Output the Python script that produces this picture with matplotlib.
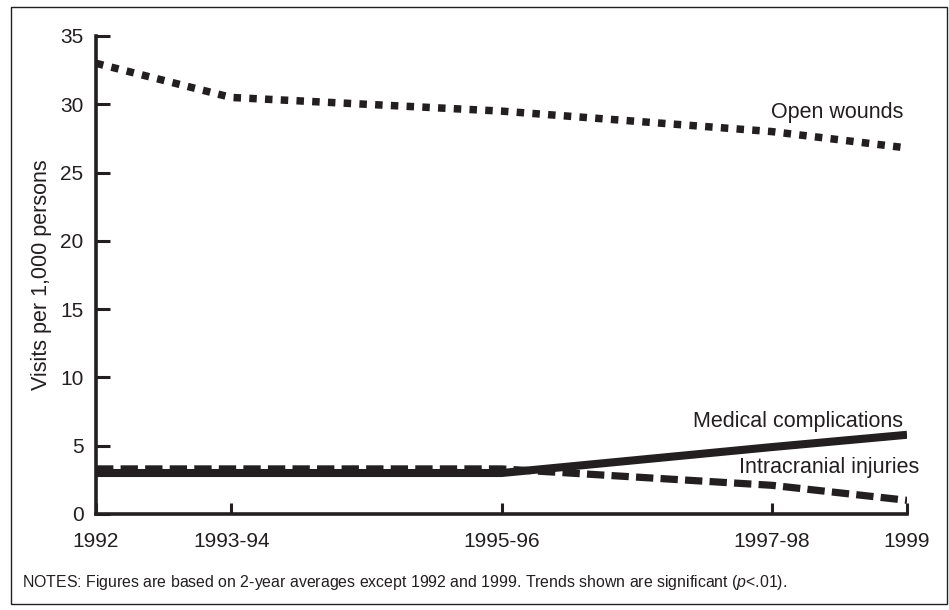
import matplotlib
matplotlib.use('Agg')
import matplotlib.pyplot as plt
from matplotlib.patches import Rectangle

plt.rcParams['font.family'] = ['Liberation Sans', 'DejaVu Sans']
plt.rcParams['mathtext.fontset'] = 'custom'
plt.rcParams['mathtext.it'] = 'Liberation Sans:italic'
plt.rcParams['mathtext.rm'] = 'Liberation Sans'

# periods (x positions follow the spacing of the original axis)
period_labels = ['1992', '1993-94', '1995-96', '1997-98', '1999']
period_x = [0, 1, 3, 5, 6]

# visits per 1,000 persons
open_wounds = [33.0, 30.5, 29.5, 28.0, 26.8]
medical_complications = [3.0, 3.0, 3.0, 4.9, 5.8]
intracranial_injuries = [3.3, 3.3, 3.3, 2.1, 1.0]

ink = '#231f20'
fig = plt.figure(figsize=(9.49, 6.10), dpi=100)
ax = fig.add_axes([0.1012, 0.1574, 0.8546, 0.7836])

ax.plot(period_x, open_wounds, color=ink, lw=5.4,
        linestyle=(0, (1, 1.1)), dash_capstyle='butt')
ax.plot(period_x, medical_complications, color=ink, lw=5.8,
        solid_capstyle='butt')
ax.plot(period_x, intracranial_injuries, color=ink, lw=5.2,
        linestyle=(0, (2.4, 1)), dash_capstyle='butt')

lab = dict(ha='right', va='center', fontsize=15.5, color=ink)
ax.text(5.97, 29.4, 'Open wounds', **lab)
ax.text(5.97, 6.8, 'Medical complications', **lab)
ax.text(6.09, 3.4, 'Intracranial injuries', **lab)

ax.set_xlim(0, 6)
ax.set_ylim(0, 35)
ax.set_xticks(period_x)
ax.set_xticklabels(period_labels)
ax.set_yticks(range(0, 36, 5))
ax.tick_params(axis='both', direction='in', width=2.2, colors=ink, labelsize=15)
ax.tick_params(axis='y', length=10, pad=9)
ax.tick_params(axis='x', length=8, pad=13)
for s in ['top', 'right']:
    ax.spines[s].set_visible(False)
for s in ['left', 'bottom']:
    ax.spines[s].set_linewidth(2.6)
    ax.spines[s].set_color(ink)
    ax.spines[s].set_capstyle('projecting')
ax.set_ylabel('Visits per 1,000 persons', fontsize=15.5, color=ink, labelpad=6)

fig.text(22 / 949, 1 - 583 / 610,
         r'NOTES: Figures are based on 2-year averages except 1992 and 1999. Trends shown are significant ($\mathit{p}$<.01).',
         ha='left', va='center', fontsize=11.4, color=ink)

# border around the whole figure
fig.patches.append(Rectangle((11 / 949, 1 - 604 / 610), 936 / 949, 597 / 610,
                             transform=fig.transFigure, fill=False,
                             edgecolor=ink, lw=1.0))

plt.savefig('out.png', dpi=100)
